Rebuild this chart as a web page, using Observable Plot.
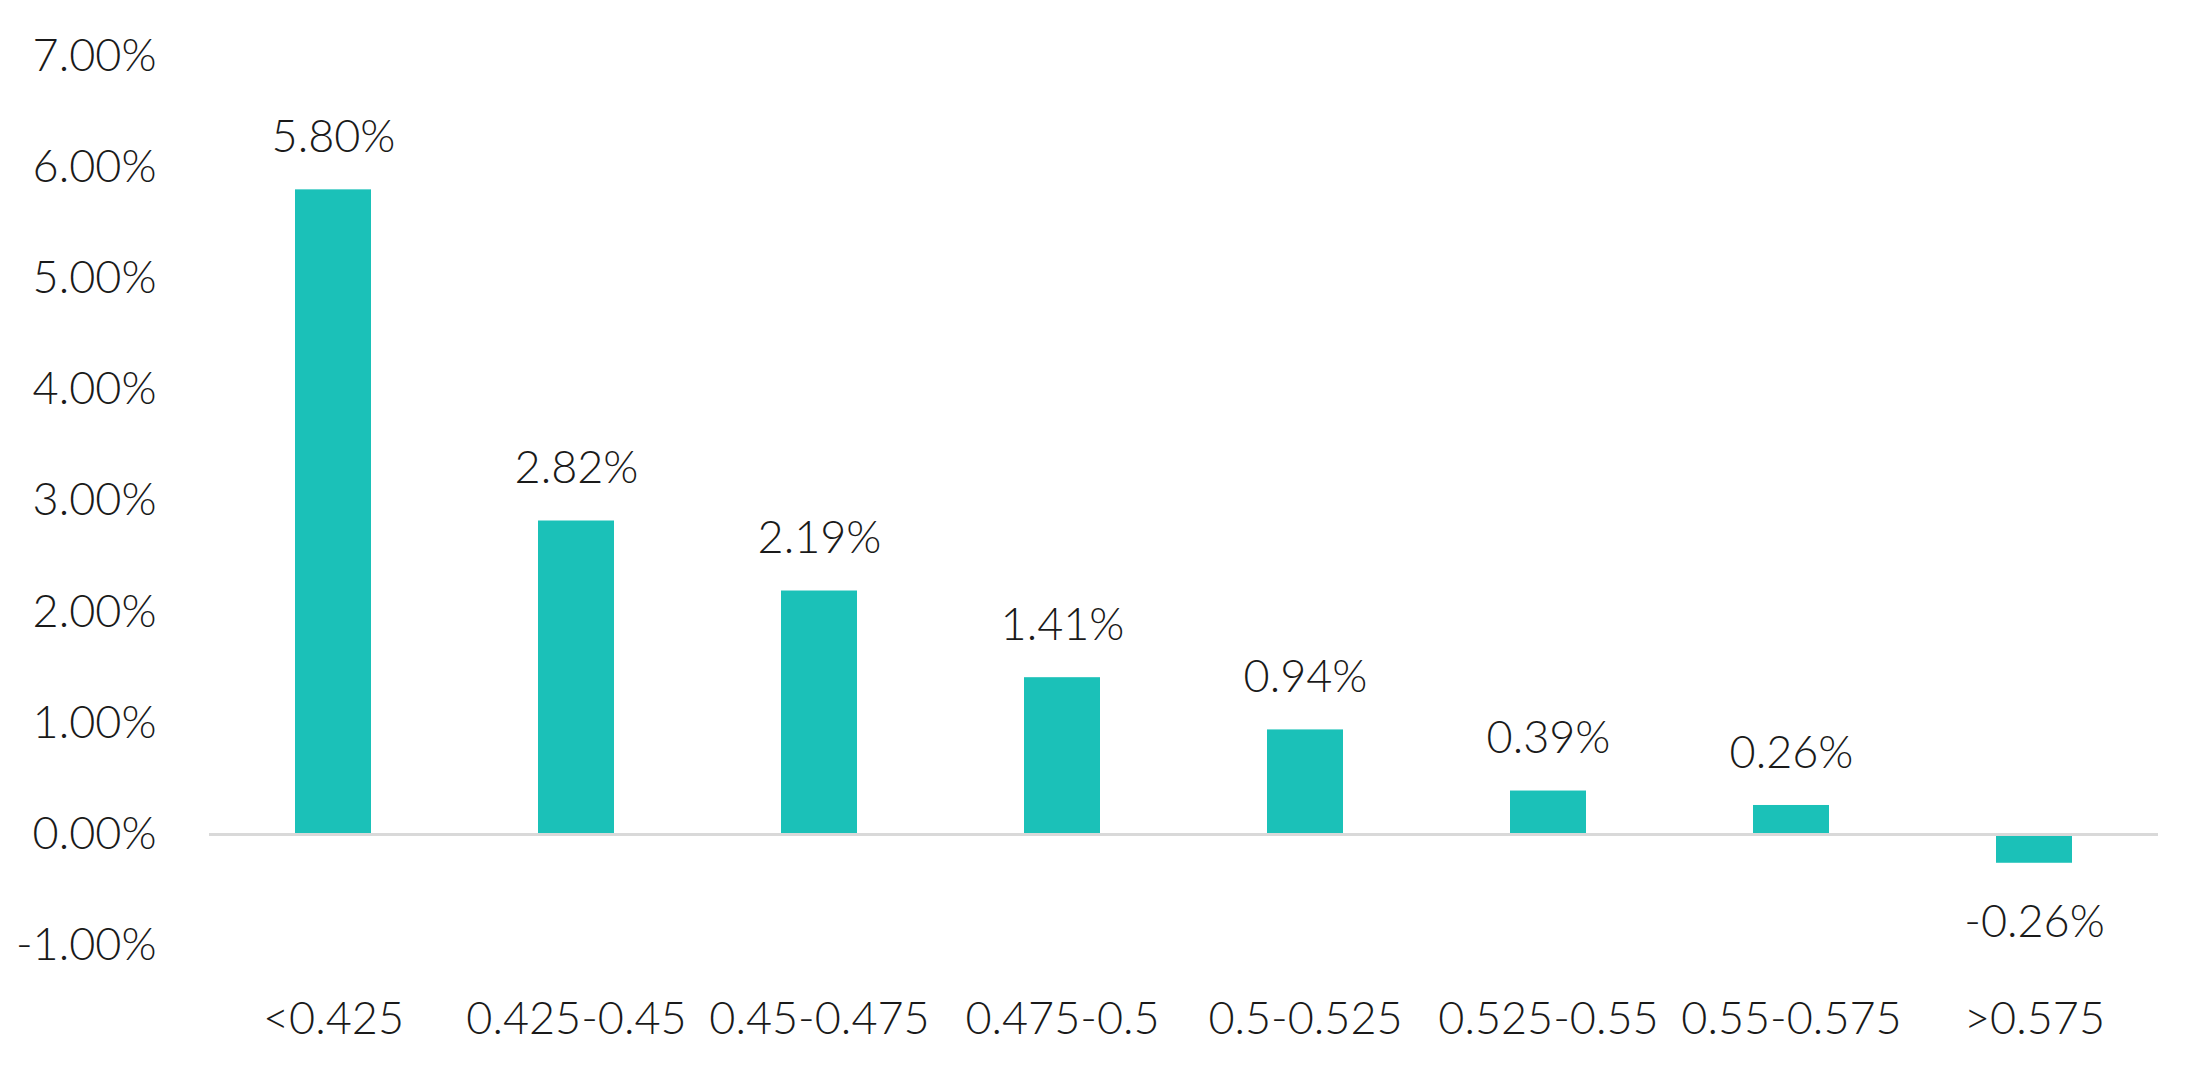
<!DOCTYPE html>
<html>
<head>
<meta charset="utf-8">
<script src="https://cdn.jsdelivr.net/npm/d3@7"></script>
<script src="https://cdn.jsdelivr.net/npm/@observablehq/plot@0.6"></script>
<style>
  html, body { margin: 0; padding: 0; background: #ffffff; overflow: hidden; }
</style>
</head>
<body>
<div id="chart"></div>
<script>
const categories = ["<0.425", "0.425-0.45", "0.45-0.475", "0.475-0.5", "0.5-0.525", "0.525-0.55", "0.55-0.575", ">0.575"];
const values = [5.80, 2.82, 2.19, 1.41, 0.94, 0.39, 0.26, -0.26];
const yTicks = [-1, 0, 1, 2, 3, 4, 5, 6, 7];

const data = categories.map((c, i) => ({cat: c, value: values[i]}));
const fmt = v => v.toFixed(2) + "%";
const barColor = "#1BC1B8";
const textColor = "#1a1a1a";

const chart = Plot.plot({
  width: 2209,
  height: 1079,
  marginTop: 56,
  marginBottom: 134,
  marginLeft: 209,
  marginRight: 51,
  style: {fontFamily: "'Lato Light', 'Lato Hairline', Lato, 'Noto Sans', sans-serif", fontWeight: 300, fontSize: "45px", color: textColor, background: "#ffffff"},
  x: {domain: categories, paddingInner: 0.688, paddingOuter: 0.344, label: null, tickSize: 0, tickPadding: 57},
  y: {domain: [-1, 7], ticks: yTicks, tickFormat: fmt, label: null, tickSize: 0, tickPadding: 53},
  marks: [
    Plot.barY(data, {x: "cat", y: "value", fill: barColor}),
    Plot.ruleY([0], {stroke: "#d9d9d9", strokeWidth: 3}),
    Plot.text(data.filter(d => d.value >= 0), {x: "cat", y: "value", text: d => fmt(d.value), dy: -52, lineAnchor: "middle", fill: textColor}),
    Plot.text(data.filter(d => d.value < 0), {x: "cat", y: "value", text: d => fmt(d.value), dy: 59, lineAnchor: "middle", fill: textColor})
  ]
});
document.getElementById("chart").appendChild(chart);
</script>
</body>
</html>
